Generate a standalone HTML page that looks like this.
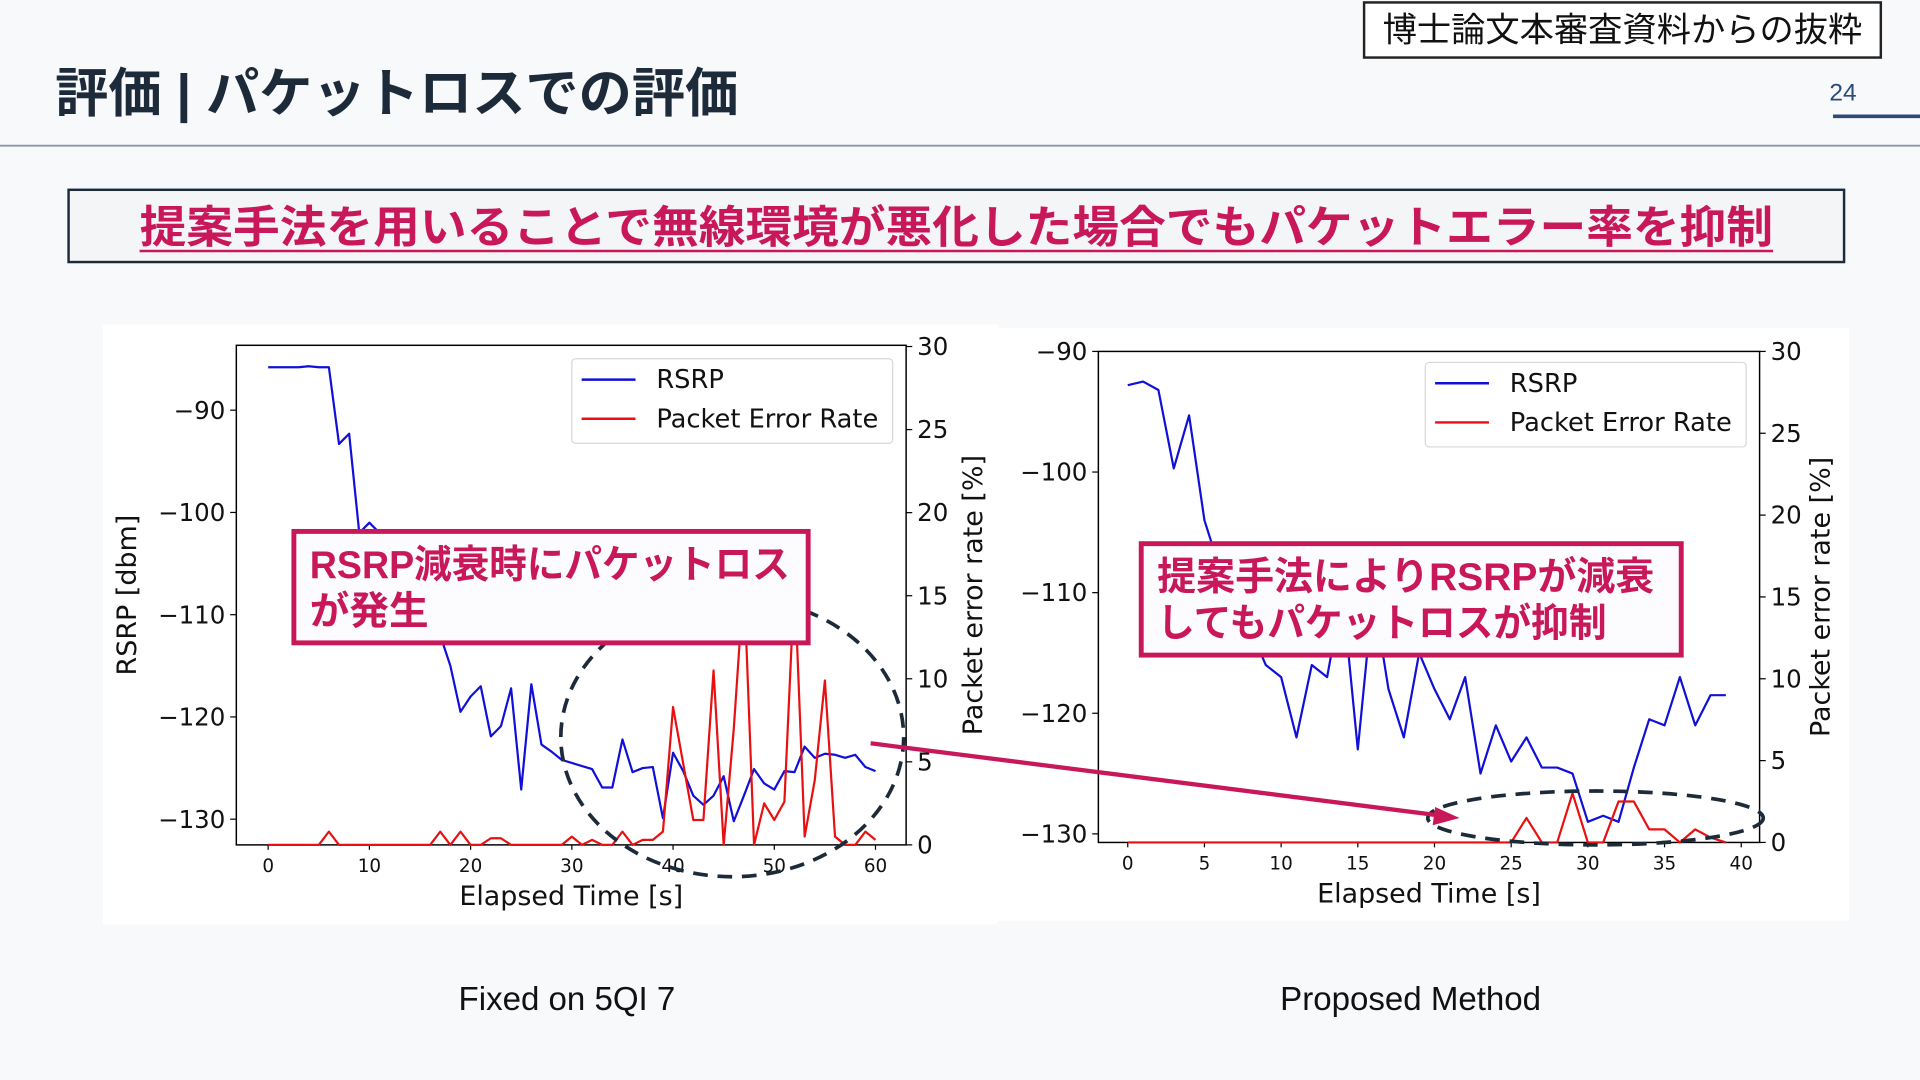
<!DOCTYPE html>
<html><head><meta charset="utf-8">
<style>
html,body{margin:0;padding:0;background:#f8f9fb;}
svg{display:block;}
text{font-family:"Liberation Sans","DejaVu Sans","Noto Sans CJK JP",sans-serif;}
.jp{font-family:"Liberation Sans","Noto Sans CJK JP",sans-serif;}
.dv{font-family:"DejaVu Sans","Liberation Sans",sans-serif;}
</style></head>
<body>
<svg id="slide" width="1920" height="1080" viewBox="0 0 1568 882" xmlns="http://www.w3.org/2000/svg">
<rect x="0" y="0" width="1568" height="882" fill="#f8f9fb"/>
<text class="jp" x="45" y="91" font-size="43" font-weight="bold" fill="#1c2a3a" textLength="558" lengthAdjust="spacingAndGlyphs">評価 | パケットロスでの評価</text>
<g>
<rect x="1114" y="2" width="422" height="45" fill="#fff" stroke="#222" stroke-width="2"/>
<text class="jp" x="1325" y="34" font-size="28" text-anchor="middle" fill="#111">博士論文本審査資料からの抜粋</text>
</g>
<text x="1494" y="82" font-size="20" fill="#2b4a7a">24</text>
<line x1="1497" y1="95" x2="1568" y2="95" stroke="#2b4a7a" stroke-width="3"/>
<line x1="0" y1="119" x2="1568" y2="119" stroke="#8c96a8" stroke-width="1.5"/>
<g>
<rect x="56" y="155" width="1450" height="59" fill="#f4f5f6" stroke="#1c2a3a" stroke-width="2"/>
<text class="jp" x="114" y="198" font-size="36" font-weight="bold" fill="#c8185a" textLength="1334" lengthAdjust="spacingAndGlyphs">提案手法を用いることで無線環境が悪化した場合でもパケットエラー率を抑制</text>
<line x1="114" y1="205" x2="1448" y2="205" stroke="#c8185a" stroke-width="2"/>
</g>
<rect x="84" y="265" width="731" height="490" fill="#fff"/>
<rect x="815" y="268" width="695" height="484" fill="#fff"/>
<g id="c1"></g>
<g id="c2"></g>
<g id="overlay"></g>
<text x="463" y="825" font-size="27" text-anchor="middle" fill="#111">Fixed on 5QI 7</text>
<text x="1152" y="825" font-size="27" text-anchor="middle" fill="#111">Proposed Method</text>
</svg>
<script>
// Chart 1: Fixed on 5QI 7
const times1 = [0,1,2,3,4,5,6,7,8,9,10,11,12,13,14,15,16,17,18,19,20,21,22,23,24,25,26,27,28,29,30,31,32,33,34,35,36,37,38,39,40,41,42,43,44,45,46,47,48,49,50,51,52,53,54,55,56,57,58,59,60];
const rsrp1 = [-85.8,-85.8,-85.8,-85.8,-85.7,-85.8,-85.8,-93.3,-92.3,-102,-101,-102,-102,-104,-106,-107,-109,-112,-115,-119.5,-118,-117,-121.9,-120.9,-117.2,-127.1,-116.8,-122.7,-123.4,-124.2,-124.5,-124.8,-125.1,-126.9,-126.9,-122.2,-125.4,-125,-124.9,-129.9,-123.5,-125.3,-127.7,-128.6,-127.7,-125.8,-130.2,-127.7,-125.1,-126.5,-127.1,-125.3,-125.4,-122.9,-124,-123.6,-123.7,-124,-123.7,-124.9,-125.3];
const per1 = [0,0,0,0,0,0,0.8,0,0,0,0,0,0,0,0,0,0,0.8,0,0.8,0,0,0.4,0.4,0,0,0,0,0,0,0.5,0,0.3,0,0,0.8,0,0.3,0.3,0.8,8.3,4.9,1.5,1.5,10.5,0,7,16,0,2.5,1.5,2.6,16,0.5,3.9,9.9,0.5,0,0,0.8,0.3];
const xTicks1 = [0,10,20,30,40,50,60];
const yTicks1 = [-90,-100,-110,-120,-130];
const y2Ticks1 = [0,5,10,15,20,25,30];
// Chart 2: Proposed Method
const times2 = [0,1,2,3,4,5,6,7,8,9,10,11,12,13,14,15,16,17,18,19,20,21,22,23,24,25,26,27,28,29,30,31,32,33,34,35,36,37,38,39];
const rsrp2 = [-92.8,-92.5,-93.2,-99.7,-95.3,-104,-108,-111,-113,-116,-117,-122,-116,-117,-110,-123,-110,-118,-122,-115,-118,-120.5,-117,-125,-121,-124,-122,-124.5,-124.5,-125,-129,-128.5,-129,-124.5,-120.5,-121,-117,-121,-118.5,-118.5];
const per2 = [0,0,0,0,0,0,0,0,0,0,0,0,0,0,0,0,0,0,0,0,0,0,0,0,0,0,1.5,0,0,3,0,0,2.5,2.5,0.8,0.8,0,0.8,0.3,0];
const xTicks2 = [0,5,10,15,20,25,30,35,40];
const yTicks2 = [-90,-100,-110,-120,-130];
const y2Ticks2 = [0,5,10,15,20,25,30];

const NS='http://www.w3.org/2000/svg';
function mk(tag, attrs, parent){const e=document.createElementNS(NS,tag);for(const k in attrs)e.setAttribute(k,attrs[k]);parent.appendChild(e);return e;}
function fmt(v){return v<0?'\u2212'+Math.abs(v):String(v);}

function drawChart(g, cfg, times, rsrp, per, xT, yT, y2T){
  const xs=t=>cfg.x0+(t-cfg.t0)*(cfg.x1-cfg.x0)/(cfg.t1-cfg.t0);
  const ys=v=>cfg.ya+(v-cfg.va)*(cfg.yb-cfg.ya)/(cfg.vb-cfg.va);
  const y2s=v=>cfg.py0+v*(cfg.py30-cfg.py0)/30;
  const frame=mk('rect',{x:cfg.L,y:cfg.T,width:cfg.R-cfg.L,height:cfg.B-cfg.T,fill:'none',stroke:'#000','stroke-width':1.2},g);
  
  
  xT.forEach(t=>{
    mk('line',{x1:xs(t),y1:cfg.B,x2:xs(t),y2:cfg.B+4,stroke:'#000'},g);
    const tx=mk('text',{x:xs(t),y:cfg.B+22,'font-size':cfg.xfs,'text-anchor':'middle',fill:'#111',class:'dv'},g);
    tx.textContent=t;
    
    
  });
  yT.forEach(v=>{
    mk('line',{x1:cfg.L-5,y1:ys(v),x2:cfg.L,y2:ys(v),stroke:'#000'},g);
    const tx=mk('text',{x:cfg.L-9,y:ys(v)+7,'font-size':20,'text-anchor':'end',fill:'#111',class:'dv'},g);
    tx.textContent=fmt(v);
    
    
  });
  y2T.forEach(v=>{
    mk('line',{x1:cfg.R,y1:y2s(v),x2:cfg.R+5,y2:y2s(v),stroke:'#000'},g);
    const tx=mk('text',{x:cfg.R+9,y:y2s(v)+7,'font-size':20,fill:'#111',class:'dv'},g);
    tx.textContent=v;
    
    
  });
  const p1=mk('polyline',{points:times.map((t,i)=>xs(t)+','+ys(rsrp[i])).join(' '),fill:'none',stroke:'#1010d8','stroke-width':1.8,'stroke-linejoin':'round'},g);
  
  
  const p2=mk('polyline',{points:times.map((t,i)=>xs(t)+','+y2s(per[i])).join(' '),fill:'none',stroke:'#e81010','stroke-width':1.8,'stroke-linejoin':'round'},g);
  
  
  const lg=mk('g',{},g);
  
  
  mk('rect',{x:cfg.lx,y:cfg.ly,width:262,height:69,rx:3,fill:'#fff',stroke:'#d8d8d8'},lg);
  mk('line',{x1:cfg.lx+8,y1:cfg.ly+17,x2:cfg.lx+52,y2:cfg.ly+17,stroke:'#1010d8','stroke-width':2},lg);
  mk('line',{x1:cfg.lx+8,y1:cfg.ly+49,x2:cfg.lx+52,y2:cfg.ly+49,stroke:'#e81010','stroke-width':2},lg);
  const l1=mk('text',{x:cfg.lx+69,y:cfg.ly+24,'font-size':21,fill:'#111',class:'dv'},lg);l1.textContent='RSRP';
  
  
  const l2=mk('text',{x:cfg.lx+69,y:cfg.ly+56,'font-size':21,fill:'#111',class:'dv'},lg);l2.textContent='Packet Error Rate';
  
  
  const xl=mk('text',{x:(cfg.L+cfg.R)/2,y:cfg.B+49,'font-size':22,'text-anchor':'middle',fill:'#111',class:'dv'},g);xl.textContent='Elapsed Time [s]';
  
  
  const yl=mk('text',{x:0,y:0,'font-size':22,'text-anchor':'middle',fill:'#111',class:'dv',transform:`translate(${cfg.ylx},${(cfg.T+cfg.B)/2}) rotate(-90)`},g);yl.textContent='RSRP [dbm]';
  
  
  const y2l=mk('text',{x:0,y:0,'font-size':22,'text-anchor':'middle',fill:'#111',class:'dv',transform:`translate(${cfg.y2lx},${(cfg.T+cfg.B)/2}) rotate(-90)`},g);y2l.textContent='Packet error rate [%]';
  
  
}
drawChart(document.getElementById('c1'),
 {L:193,R:740,T:282,B:690,x0:219,x1:715,t0:0,t1:60,ya:335,va:-90,yb:669,vb:-130,py0:690,py30:283,lx:467,ly:293,xfs:15,ylx:111,y2lx:802},
 times1,rsrp1,per1,xTicks1,yTicks1,y2Ticks1);
drawChart(document.getElementById('c2'),
 {L:897,R:1437,T:287,B:688,x0:921,x1:1422,t0:0,t1:40,ya:287,va:-90,yb:681,vb:-130,py0:688,py30:287,lx:1164,ly:296,xfs:15,ylx:9999,y2lx:1494},
 times2,rsrp2,per2,xTicks2,yTicks2,y2Ticks2);

const ov=document.getElementById('overlay');
const e1=mk('ellipse',{cx:598,cy:602,rx:140,ry:114,fill:'none',stroke:'#1c2a3a','stroke-width':3,'stroke-dasharray':'12 8'},ov);


const e2=mk('ellipse',{cx:1303,cy:668,rx:137,ry:22,fill:'none',stroke:'#1c2a3a','stroke-width':3,'stroke-dasharray':'12 8'},ov);


const ar=mk('line',{x1:711,y1:607,x2:1176,y2:666,stroke:'#c8185a','stroke-width':3.5},ov);


mk('polygon',{points:'1192,668 1172,659 1170,674',fill:'#c8185a'},ov);
function box(x,y,w,h,lines,lens,name){
  const g=mk('g',{},ov);
  
  
  mk('rect',{x:x,y:y,width:w,height:h,fill:'#fcfcfe',stroke:'#c8185a','stroke-width':4},g);
  lines.forEach((s,i)=>{const t=mk('text',{x:x+13,y:y+38+i*38,'font-size':32,'font-weight':'bold',fill:'#c8185a',class:'jp',textLength:lens[i],lengthAdjust:'spacingAndGlyphs'},g);t.textContent=s;});
}
box(240,434,420,91,['RSRP減衰時にパケットロス','が発生'],[392,97],'annotation-left');
box(932,444,441,91,['提案手法によりRSRPが減衰','してもパケットロスが抑制'],[406,367],'annotation-right');
</script>
</body></html>
